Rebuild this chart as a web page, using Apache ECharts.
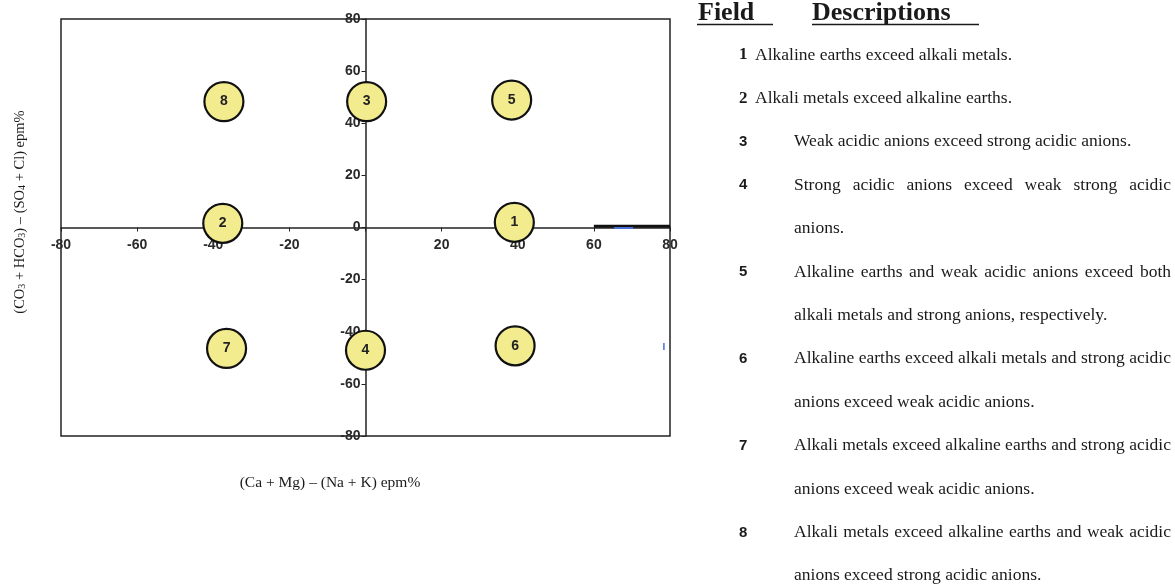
<!DOCTYPE html>
<html>
<head>
<meta charset="utf-8">
<title>Hydrochemical field classification</title>
<script src="https://cdn.jsdelivr.net/npm/echarts@6/dist/echarts.min.js"></script>
<style>
  html, body { margin: 0; padding: 0; background: #ffffff; }
  #chart { width: 1175px; height: 588px; }
</style>
</head>
<body>
<div id="chart"></div>
<script>
// Field markers: label and position in (cation diff, anion diff) epm% space
const fieldNumbers = ['1', '2', '3', '4', '5', '6', '7', '8'];
const fieldX = [39.1, -37.5, 0.3, 0, 38.4, 39.3, -36.5, -37.2];
const fieldY = [2.0, 1.6, 48.3, -47.1, 48.9, -45.4, -46.4, 48.3];

// Short stray strokes along the right side of the plot
const heavySegmentX = [60, 80];
const heavySegmentY = [0.5, 0.5];
const blueDashX = [65.3, 70.3];
const blueDashY = [-0.2, -0.2];
const blueTickX = [78.4, 78.4];
const blueTickY = [-44.3, -47.0];

// Axis ranges and tick step
const axisMin = -80;
const axisMax = 80;
const axisStep = 20;

// Axis titles
const xTitle = '(Ca + Mg) \u2013 (Na + K) epm%';
const yTitleRich = '(CO{s|3} + HCO{s|3}) \u2013 (SO{s|4} + Cl) epm%';

// Field descriptions, one entry per field, split into printed lines
const tableHeaders = ['Field', 'Descriptions'];
const fieldLines = [
  ['Alkaline earths exceed alkali metals.'],
  ['Alkali metals exceed alkaline earths.'],
  ['Weak acidic anions exceed strong acidic anions.'],
  ['Strong acidic anions exceed weak strong acidic', 'anions.'],
  ['Alkaline earths and weak acidic anions exceed both', 'alkali metals and strong anions, respectively.'],
  ['Alkaline earths exceed alkali metals and strong acidic', 'anions exceed weak acidic anions.'],
  ['Alkali metals exceed alkaline earths and strong acidic', 'anions exceed weak acidic anions.'],
  ['Alkali metals exceed alkaline earths and weak acidic', 'anions exceed strong acidic anions.']
];

const serif = '"Liberation Serif", "Times New Roman", serif';
const sans = '"Liberation Sans", Arial, sans-serif';
const ink = '#1a1a1a';

// plot frame in pixels
const gridLeft = 61, gridTop = 19, gridWidth = 609, gridHeight = 417;

function buildDescriptionGraphics() {
  const els = [];
  const firstRowY = 55;
  const rowGap = 43.4;
  const numberX = 739;
  const rightEdge = 1171;
  const bodyFont = '17.5px ' + serif;
  const ctx = document.createElement('canvas').getContext('2d');
  ctx.font = bodyFont;

  // headers with underlines
  els.push({ type: 'text', x: 698, y: 13, style: { text: tableHeaders[0], font: 'bold 26px ' + serif, fill: ink, textVerticalAlign: 'middle', verticalAlign: 'middle' } });
  els.push({ type: 'text', x: 812, y: 13, style: { text: tableHeaders[1], font: 'bold 26px ' + serif, fill: ink, textVerticalAlign: 'middle', verticalAlign: 'middle' } });
  els.push({ type: 'line', shape: { x1: 697, y1: 24.5, x2: 773, y2: 24.5 }, style: { stroke: ink, lineWidth: 1.6 } });
  els.push({ type: 'line', shape: { x1: 812, y1: 24.5, x2: 979, y2: 24.5 }, style: { stroke: ink, lineWidth: 1.6 } });

  const textStyle = (text, font) => ({ text, font, fill: ink, textVerticalAlign: 'middle', verticalAlign: 'middle' });

  let row = 0;
  fieldNumbers.forEach((num, i) => {
    const lines = fieldLines[i];
    const textX = i < 2 ? 755 : 794;
    const numFont = i < 2 ? 'bold 17px ' + serif : 'bold 15px ' + sans;
    els.push({ type: 'text', x: numberX, y: firstRowY + row * rowGap, style: textStyle(num, numFont) });
    lines.forEach((line, j) => {
      const y = firstRowY + row * rowGap;
      if (lines.length > 1 && j === 0) {
        // justified first line
        const words = line.split(' ');
        const widths = words.map(w => ctx.measureText(w).width);
        const total = widths.reduce((a, b) => a + b, 0);
        const gap = Math.max(ctx.measureText(' ').width * 0.8, (rightEdge - textX - total) / (words.length - 1));
        let x = textX;
        words.forEach((w, k) => {
          els.push({ type: 'text', x: x, y: y, style: textStyle(w, bodyFont) });
          x += widths[k] + gap;
        });
      } else {
        els.push({ type: 'text', x: textX, y: y, style: textStyle(line, bodyFont) });
      }
      row++;
    });
  });

  // axis titles
  els.push({ type: 'text', x: 330, y: 483, style: { text: xTitle, font: '15.5px ' + serif, fill: ink, textAlign: 'center', align: 'center', textVerticalAlign: 'middle', verticalAlign: 'middle' } });
  els.push({
    type: 'text', x: 20, y: 212, rotation: Math.PI / 2,
    style: {
      text: yTitleRich,
      font: '14.5px ' + serif,
      fill: ink,
      textAlign: 'center', align: 'center',
      textVerticalAlign: 'middle', verticalAlign: 'middle',
      rich: {
        s: { fontSize: 10, fontFamily: serif, fill: ink, verticalAlign: 'bottom', lineHeight: 10, padding: [10, 0, 0, 0] }
      }
    }
  });
  return els;
}

const chart = echarts.init(document.getElementById('chart'), null, { renderer: 'canvas' });

// the axes cross at the origin, in the middle of the frame
const axisBase = {
  type: 'value',
  min: axisMin,
  max: axisMax,
  interval: axisStep,
  splitLine: { show: false },
  axisLine: { show: true, onZero: false, lineStyle: { color: '#222', width: 1.5 } },
  axisTick: { show: true, length: 4, lineStyle: { color: '#222', width: 1 } }
};

chart.setOption({
  animation: false,
  backgroundColor: '#ffffff',
  grid: {
    left: gridLeft, top: gridTop, width: gridWidth, height: gridHeight,
    show: true, borderColor: '#222', borderWidth: 1.5, backgroundColor: 'transparent'
  },
  xAxis: Object.assign({}, axisBase, {
    position: 'bottom',
    offset: -gridHeight * (0 - axisMin) / (axisMax - axisMin),
    axisLabel: {
      margin: 11, fontFamily: sans, fontWeight: 'bold', fontSize: 14, color: '#2a2a2a',
      formatter: v => (v === 0 ? '' : String(v))
    }
  }),
  yAxis: Object.assign({}, axisBase, {
    position: 'left',
    offset: -gridWidth * (0 - axisMin) / (axisMax - axisMin),
    axisLabel: {
      margin: 5, fontFamily: sans, fontWeight: 'bold', fontSize: 14, color: '#2a2a2a'
    }
  }),
  series: [
    {
      type: 'line', silent: true, symbol: 'none', z: 1,
      data: heavySegmentX.map((x, i) => [x, heavySegmentY[i]]),
      lineStyle: { color: '#111', width: 3 }
    },
    {
      type: 'line', silent: true, symbol: 'none', z: 1,
      data: blueDashX.map((x, i) => [x, blueDashY[i]]),
      lineStyle: { color: '#4a6fd6', width: 2 }
    },
    {
      type: 'line', silent: true, symbol: 'none', z: 1,
      data: blueTickX.map((x, i) => [x, blueTickY[i]]),
      lineStyle: { color: '#4a6fd6', width: 1.5 }
    },
    {
      type: 'scatter',
      symbol: 'circle',
      symbolSize: 39,
      z: 5,
      itemStyle: { color: '#f2ec8e', borderColor: '#111', borderWidth: 2.2, opacity: 1 },
      label: {
        show: true, position: 'inside', formatter: p => p.name,
        fontFamily: sans, fontWeight: 'bold', fontSize: 14, color: '#222'
      },
      data: fieldNumbers.map((n, i) => ({ name: n, value: [fieldX[i], fieldY[i]] }))
    }
  ],
  graphic: buildDescriptionGraphics()
});
</script>
</body>
</html>
